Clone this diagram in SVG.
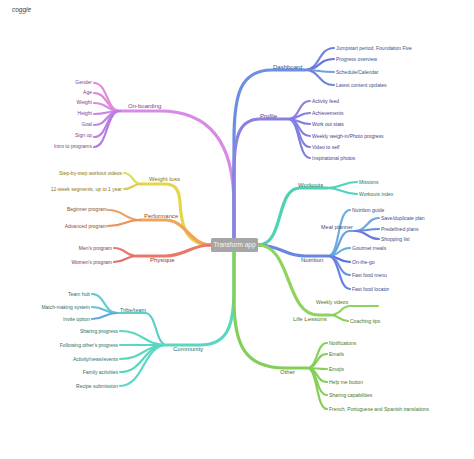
<svg xmlns="http://www.w3.org/2000/svg" width="474" height="459" viewBox="0 0 474 459">
<style>
text{font-family:"Liberation Sans","Arial",sans-serif}
.c{font-size:5px}
.m{font-size:6px}
.e{text-anchor:end}
path{fill:none;stroke-linecap:round}
.b{stroke-width:3.2}
.k{stroke-width:2.2}
</style>
<rect width="474" height="459" fill="#ffffff"/>
<text x="12" y="12" font-size="6.5" font-style="italic" fill="#444">coggle</text>
<g id="connectors">
<!-- On-boarding -->
<path class="b" stroke="#d98ae6" d="M234,238 L234,205 C234,150 215,111 160,111 L120,111"/>
<path class="k" stroke="#e38bd8" d="M120,111 C106,111 108,83 94,83"/>
<path class="k" stroke="#df88dc" d="M120,111 C106,111 108,93 94,93"/>
<path class="k" stroke="#db89e2" d="M120,111 C106,111 108,103 94,103"/>
<path class="k" stroke="#cc84e6" d="M120,111 C106,111 108,114 94,114"/>
<path class="k" stroke="#c481e6" d="M120,111 C106,111 108,125 94,125"/>
<path class="k" stroke="#bb7fe6" d="M120,111 C106,111 108,137 94,137"/>
<path class="k" stroke="#b47ce6" d="M120,111 C106,111 108,147 94,147"/>
<!-- Dashboard -->
<path class="b" stroke="#6b8fe2" d="M234,238 L234,140 C234,95 240,70 272,70 L305,70"/>
<path class="k" stroke="#6f7fe0" d="M305,70 C320,70 318,48 334,48"/>
<path class="k" stroke="#6a78de" d="M305,70 C320,70 318,59 334,59"/>
<path class="k" stroke="#6ba2e0" d="M305,70 C320,70 318,72 334,72"/>
<path class="k" stroke="#6f84e0" d="M305,70 C320,70 318,85 334,85"/>
<!-- Profile -->
<path class="b" stroke="#8a82e0" d="M234,238 L234,172 C234,135 240,119 260,119 L288,119"/>
<path class="k" stroke="#8f7fe0" d="M288,119 C300,119 298,101 310,101"/>
<path class="k" stroke="#8a7ee0" d="M288,119 C300,119 298,113 310,113"/>
<path class="k" stroke="#857fe0" d="M288,119 C300,119 298,124 310,124"/>
<path class="k" stroke="#8b80e2" d="M288,119 C300,119 298,136 310,136"/>
<path class="k" stroke="#8180e0" d="M288,119 C300,119 298,147 310,147"/>
<path class="k" stroke="#7d80e0" d="M288,119 C300,119 298,158 310,158"/>
<!-- Weight loss -->
<path class="b" stroke="#e3d64a" d="M211,245 C184,245 181,222 180,202 C179,189 175,184 165,184 L141,184"/>
<path class="k" stroke="#dfe04a" d="M141,184 C132,184 133,173 124,173"/>
<path class="k" stroke="#e6c84a" d="M141,184 C132,184 133,189 124,189"/>
<!-- Performance -->
<path class="b" stroke="#f0a35a" d="M211,245 C190,245 186,220 165,220 L140,220"/>
<path class="k" stroke="#eea05e" d="M140,220 C124,220 125,210 108,210"/>
<path class="k" stroke="#eb905a" d="M140,220 C124,220 125,226 108,226"/>
<!-- Physique -->
<path class="b" stroke="#e8786c" d="M211,245 C190,245 186,256 165,256 L137,256"/>
<path class="k" stroke="#e8786e" d="M137,256 C125,256 126,248 114,248"/>
<path class="k" stroke="#e66e6e" d="M137,256 C125,256 126,262 114,262"/>
<!-- Community -->
<path class="b" stroke="#5ad6c2" d="M234,252 L234,290 C234,330 225,345 200,345 L167,345"/>
<path class="k" stroke="#5ccfc8" d="M167,345 C155,345 157,313 145,313 L117,313"/>
<path class="k" stroke="#5ccfd0" d="M117,313 C104,313 105,294 92,294"/>
<path class="k" stroke="#5fc4d6" d="M117,313 C104,313 105,307 92,307"/>
<path class="k" stroke="#62a8e0" d="M117,313 C104,313 105,319 92,319"/>
<path class="k" stroke="#5ad8c0" d="M167,345 C143,345 144,331 120,331"/>
<path class="k" stroke="#5ad6c6" d="M167,345 L120,345"/>
<path class="k" stroke="#5ad8bc" d="M167,345 C143,345 144,359 120,359"/>
<path class="k" stroke="#58d6c0" d="M167,345 C143,345 144,372 120,372"/>
<path class="k" stroke="#5ad8c4" d="M167,345 C143,345 144,386 120,386"/>
<!-- Workouts -->
<path class="b" stroke="#4fd2b4" d="M258,245 C285,245 275,188 300,188 L327,188"/>
<path class="k" stroke="#50d6b8" d="M327,188 C342,188 342,182 357,182"/>
<path class="k" stroke="#4fd2c0" d="M327,188 C342,188 342,194 357,194"/>
<!-- Nutrition -->
<path class="b" stroke="#6a86e0" d="M258,245 C280,245 285,256 305,256 L328,256"/>
<path class="k" stroke="#6aaee0" d="M328,256 C340,256 337,210 350,210"/>
<path class="k" stroke="#6ca0e0" d="M328,256 C340,256 338,231 350,231 L355,231"/>
<path class="k" stroke="#6aaae0" d="M355,231 C367,231 367,218 379,218"/>
<path class="k" stroke="#6a8ce0" d="M355,231 C367,231 367,229 379,229"/>
<path class="k" stroke="#6a7ade" d="M355,231 C367,231 367,239 379,239"/>
<path class="k" stroke="#66a8e0" d="M328,256 C340,256 338,248 350,248"/>
<path class="k" stroke="#5e6edc" d="M328,256 C340,256 338,262 350,262"/>
<path class="k" stroke="#6e90e0" d="M328,256 C340,256 338,275 350,275"/>
<path class="k" stroke="#6a80e0" d="M328,256 C340,256 338,289 350,289"/>
<!-- Life Lessons -->
<path class="b" stroke="#8ed35e" d="M258,245 C292,245 285,315 318,315 L330,315"/>
<path class="k" stroke="#8ed460" d="M330,315 C342,315 340,306 350,306 L378,306"/>
<path class="k" stroke="#86d05a" d="M330,315 C340,315 339,321 348,321"/>
<!-- Other -->
<path class="b" stroke="#84cf58" d="M234,252 L234,300 C234,345 245,368 285,368 L307,368"/>
<path class="k" stroke="#86d05a" d="M307,368 C318,368 316,343 327,343"/>
<path class="k" stroke="#84cf58" d="M307,368 C318,368 316,354 327,354"/>
<path class="k" stroke="#88d05c" d="M307,368 C318,368 316,369 327,369"/>
<path class="k" stroke="#82ce58" d="M307,368 C318,368 316,382 327,382"/>
<path class="k" stroke="#86d05a" d="M307,368 C318,368 316,395 327,395"/>
<path class="k" stroke="#84cf58" d="M307,368 C318,368 316,409 327,409"/>
</g>
<g id="center">
<rect x="211" y="238" width="47" height="14" rx="1.5" fill="#a6a6a6"/>
<text x="234.5" y="247.4" font-size="6.5" text-anchor="middle" fill="#f6f6f6">Transform app</text>
</g>
<g id="onboarding" fill="#7e3f88">
<text class="m" x="128" y="108.3">On-boarding</text>
<text class="c e" x="92" y="83.7">Gender</text>
<text class="c e" x="92" y="93.7">Age</text>
<text class="c e" x="92" y="103.7">Weight</text>
<text class="c e" x="92" y="114.7">Height</text>
<text class="c e" x="92" y="125.7">Goal</text>
<text class="c e" x="92" y="137.4">Sign up</text>
<text class="c e" x="92" y="147.7">Intro to programs</text>
</g>
<g id="dashboard" fill="#3d4f8e">
<text class="m" x="273" y="69">Dashboard</text>
<text class="c" x="336" y="49.7">Jumpstart period, Foundation Five</text>
<text class="c" x="336" y="60.7">Progress overview</text>
<text class="c" x="336" y="73.7">Schedule/Calendar</text>
<text class="c" x="336" y="86.7">Latest content updates</text>
</g>
<g id="profile" fill="#48428c">
<text class="m" x="260" y="118">Profile</text>
<text class="c" x="312" y="102.7">Activity feed</text>
<text class="c" x="312" y="114.7">Achievements</text>
<text class="c" x="312" y="125.7">Work out stats</text>
<text class="c" x="312" y="137.7">Weekly weigh-in/Photo progress</text>
<text class="c" x="312" y="148.7">Video to self</text>
<text class="c" x="312" y="159.7">Inspirational photos</text>
</g>
<g id="weightloss" fill="#7f7620">
<text class="m" x="149" y="181">Weight loss</text>
<text class="c e" x="122" y="174.7">Step-by-step workout videos</text>
<text class="c e" x="122" y="190.7">12-week segments, up to 1 year</text>
</g>
<g id="performance" fill="#8a4f22">
<text class="m" x="144" y="218">Performance</text>
<text class="c e" x="107" y="210.7">Beginner program</text>
<text class="c e" x="107" y="227.7">Advanced program</text>
</g>
<g id="physique" fill="#8a3a32">
<text class="m" x="150" y="262">Physique</text>
<text class="c e" x="112" y="249.7">Men's program</text>
<text class="c e" x="112" y="263.7">Women's program</text>
</g>
<g id="community" fill="#2c6e66">
<text class="m" x="173" y="351">Community</text>
<text class="m" x="120" y="312" style="font-size:5.5px">Tribe/team</text>
<text class="c e" x="90" y="295.7">Team hub</text>
<text class="c e" x="90" y="308.7">Match-making system</text>
<text class="c e" x="90" y="320.7">Invite option</text>
<text class="c e" x="118" y="332.7">Sharing progress</text>
<text class="c e" x="118" y="346.7">Following other's progress</text>
<text class="c e" x="118" y="360.7">Activity/news/events</text>
<text class="c e" x="118" y="373.7">Family activities</text>
<text class="c e" x="118" y="387.7">Recipe submission</text>
</g>
<g id="workouts" fill="#257664">
<text class="m" x="298" y="187">Workouts</text>
<text class="c" x="359" y="183.7">Missions</text>
<text class="c" x="359" y="195.7">Workouts index</text>
</g>
<g id="nutrition" fill="#3a4c8c">
<text class="m" x="301" y="262">Nutrition</text>
<text class="c" x="352" y="211.7">Nutrition guide</text>
<text class="m" x="321" y="229" style="font-size:5.5px">Meal planner</text>
<text class="c" x="381" y="219.7">Save/duplicate plan</text>
<text class="c" x="381" y="230.7">Predefined plans</text>
<text class="c" x="381" y="240.7">Shopping list</text>
<text class="c" x="352" y="249.7">Gourmet meals</text>
<text class="c" x="352" y="263.7">On-the-go</text>
<text class="c" x="352" y="276.7">Fast food menu</text>
<text class="c" x="352" y="290.7">Fast food locator</text>
</g>
<g id="lifelessons" fill="#4a762e">
<text class="m" x="293" y="321">Life Lessons</text>
<text class="c" x="316" y="303.7">Weekly videos</text>
<text class="c" x="350" y="322.7">Coaching tips</text>
</g>
<g id="other" fill="#48762a">
<text class="m" x="280" y="374">Other</text>
<text class="c" x="329" y="344.7">Notifications</text>
<text class="c" x="329" y="355.7">Emails</text>
<text class="c" x="329" y="370.7">Emojis</text>
<text class="c" x="329" y="383.7">Help me button</text>
<text class="c" x="329" y="396.7">Sharing capabilities</text>
<text class="c" x="329" y="410.7">French, Portuguese and Spanish translations</text>
</g>
</svg>
